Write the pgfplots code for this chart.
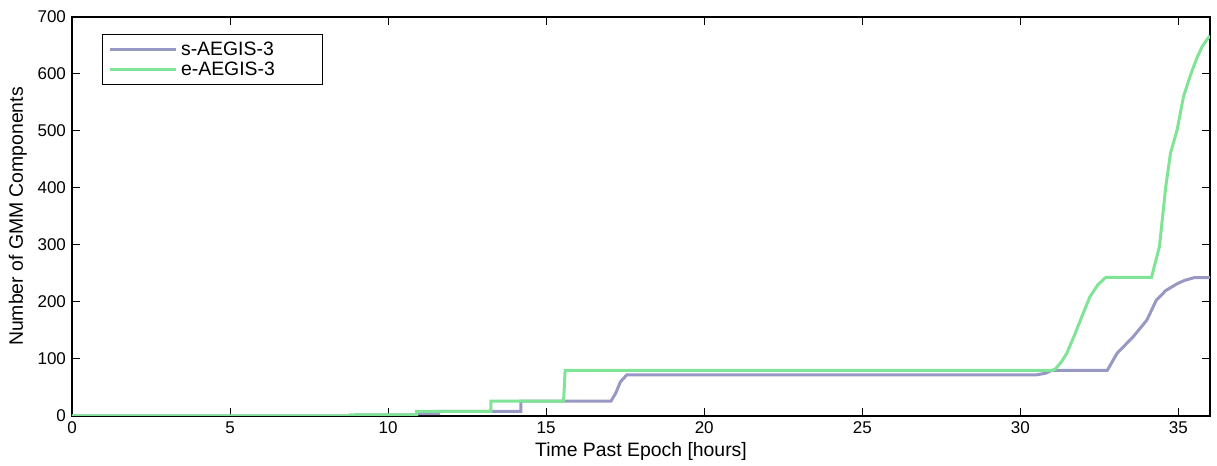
\documentclass[border=0pt]{standalone}
\usepackage{pgfplots}
\pgfplotsset{compat=1.18}
\usepackage{fontspec}
\setmainfont{Liberation Sans}
\definecolor{cpur}{RGB}{152,152,196}
\definecolor{cgrn}{RGB}{128,228,150}
\begin{document}
\fontsize{8.5pt}{10pt}\selectfont
\begin{tikzpicture}
\begin{axis}[
  scale only axis,
  width=569pt, height=199.5pt,
  xmin=0, xmax=36, ymin=0, ymax=700,
  xtick={0,5,...,35}, ytick={0,100,...,700},
  tick align=inside,
  tick style={black, line width=0.5pt},
  major tick length=4pt,
  axis line style={black, line width=0.6pt},
  /pgf/number format/assume math mode=true,
  ticklabel style={font=\fontsize{8.5pt}{10pt}\selectfont},
  label style={font=\fontsize{9.7pt}{11pt}\selectfont},
  xlabel={Time Past Epoch [hours]},
  ylabel={Number of GMM Components},
  xlabel style={at={(axis description cs:0.5,-0.0902)}, anchor=center},
  ylabel style={at={(axis description cs:-0.0475,0.5)}, anchor=center},
  legend style={at={(0.026,0.957)}, anchor=north west, draw=black, line width=0.5pt,
    font=\fontsize{9.7pt}{11pt}\selectfont, inner xsep=3pt, inner ysep=1.5pt, row sep=-2pt},
  legend cell align=left,
  legend image code/.code={\draw[#1, line width=1.5pt] (0cm,0cm) -- (33pt,0cm);},
]
\addplot[cpur, line width=1.5pt] coordinates {
(0,0)(9.0,0)(9.0,2)(10.9,2)(10.9,4)(11.6,4)(11.6,8)(14.2,8)(14.2,26)(17.05,26)
(17.2,40)(17.35,60)(17.55,72)(30.5,72)(30.8,75)(31.0,80)(32.75,80)(33.06,110)
(33.57,139)(34.0,168)(34.3,203)(34.6,220)(34.96,232)(35.2,238)(35.5,242.6)(36,243)
};
\addlegendentry{s-AEGIS-3\hspace{19.5pt}\mbox{}}
\addplot[cgrn, line width=1.5pt] coordinates {
(0,0)(8.8,0)(8.8,2)(10.9,2)(10.9,8)(13.25,8)(13.25,26)(15.55,26)(15.6,80)(31.0,80)
(31.1,82)(31.3,95)(31.47,110)(31.7,140)(31.9,168)(32.2,209)(32.45,230)(32.7,243)
(34.15,243)(34.25,265)(34.4,297)(34.6,402)(34.75,461)(34.96,502)(35.16,560)(35.4,601)
(35.6,630)(35.75,648)(35.9,660)(36,667)
};
\addlegendentry{e-AEGIS-3}
\end{axis}
\pgfresetboundingbox
\useasboundingbox ([xshift=-36pt,yshift=-25pt]current axis.south west) rectangle ([xshift=3.5pt,yshift=8.5pt]current axis.north east);
\end{tikzpicture}
\end{document}
